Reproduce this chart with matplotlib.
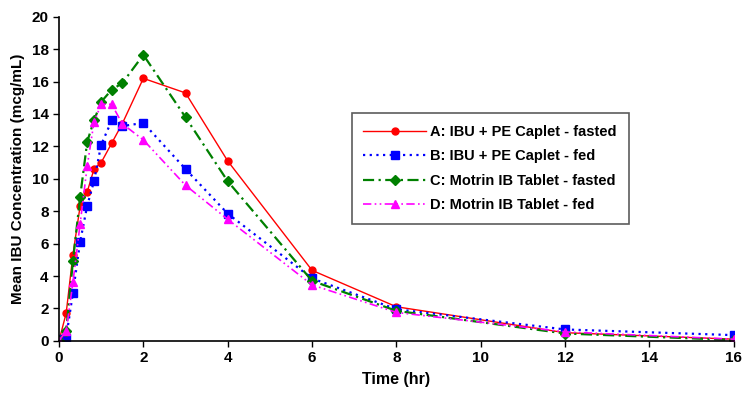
import matplotlib
matplotlib.use('Agg')
import matplotlib.pyplot as plt
import numpy as np

plt.rcParams['font.family'] = ['Liberation Sans', 'DejaVu Sans']

# sampling times (hr)
time_hr = [0, 0.17, 0.33, 0.5, 0.67, 0.83, 1, 1.25, 1.5, 2, 3, 4, 6, 8, 12, 16]

# mean IBU concentration (mcg/mL) per treatment
conc_a = [0, 1.7, 5.3, 8.3, 9.2, 10.6, 11.0, 12.2, 13.4, 16.2, 15.3, 11.1, 4.35, 2.1, 0.5, 0.1]
conc_b = [0.1, 0.2, 2.95, 6.1, 8.35, 9.85, 12.1, 13.6, 13.25, 13.45, 10.6, 7.85, 3.85, 1.95, 0.7, 0.35]
conc_c = [0, 0.6, 4.9, 8.85, 12.3, 13.6, 14.75, 15.5, 15.9, 17.65, 13.8, 9.85, 3.7, 1.85, 0.45, 0.05]
conc_d = [0, 0.6, 3.6, 7.2, 10.8, 13.5, 14.6, 14.6, 13.4, 12.4, 9.6, 7.5, 3.45, 1.75, 0.55, 0.1]

labels = ['A: IBU + PE Caplet - fasted',
          'B: IBU + PE Caplet - fed',
          'C: Motrin IB Tablet - fasted',
          'D: Motrin IB Tablet - fed']

fig = plt.figure(figsize=(7.42, 4.0), dpi=100)
ax = fig.add_axes([0.0795, 0.148, 0.9095, 0.81])

ax.plot(time_hr, conc_a, color='#ff0000', lw=1.0, ls='-', marker='o', ms=5,
        label=labels[0])
ax.plot(time_hr, conc_b, color='#0000ff', lw=1.6, ls=(0, (1, 2)), marker='s', ms=5.5,
        label=labels[1])
ax.plot(time_hr, conc_c, color='#008000', lw=1.6, ls=(0, (5, 2, 1, 2)), marker='D', ms=5,
        label=labels[2])
ax.plot(time_hr, conc_d, color='#ff00ff', lw=1.2, ls=(0, (5, 2, 1, 2, 1, 2)), marker='^', ms=6,
        label=labels[3])

ax.set_xlim(0, 16)
ax.set_ylim(0, 20)
ax.set_xticks(np.arange(0, 17, 2))
ax.set_yticks(np.arange(0, 21, 2))
ax.spines['top'].set_visible(False)
ax.spines['right'].set_visible(False)
for s in ['left', 'bottom']:
    ax.spines[s].set_linewidth(1.2)
ax.tick_params(direction='out', length=4, width=1, labelsize=11)
for lab in ax.get_xticklabels() + ax.get_yticklabels():
    lab.set_fontweight('bold')

ax.set_xlabel('Time (hr)', fontsize=11.5, fontweight='bold', labelpad=5)
ax.set_ylabel('Mean IBU Concentration (mcg/mL)', fontsize=11, fontweight='bold', labelpad=5)

leg = ax.legend(loc='upper left', bbox_to_anchor=(0.4336, 0.703), fontsize=10.5,
                fancybox=False, frameon=True, handlelength=4.3, handletextpad=0.3,
                borderpad=0.8, labelspacing=0.72, borderaxespad=0)
leg.get_frame().set_edgecolor('#333333')
leg.get_frame().set_linewidth(1.2)
for t in leg.get_texts():
    t.set_fontweight('bold')

fig.savefig('out.png', dpi=100)
